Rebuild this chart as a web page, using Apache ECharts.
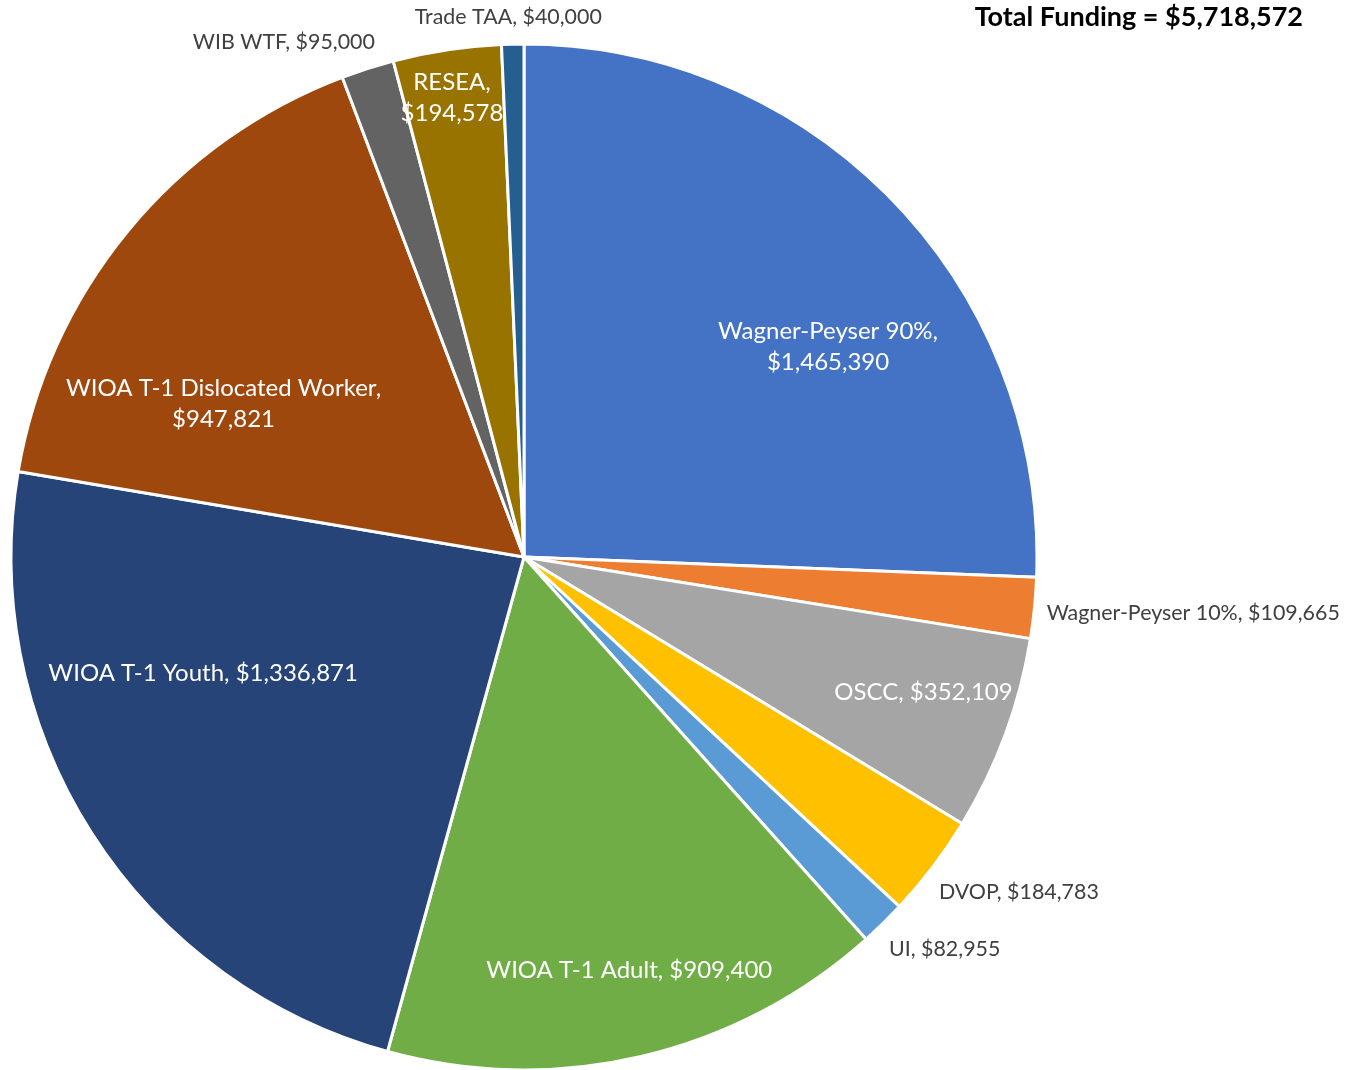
<!DOCTYPE html>
<html>
<head>
<meta charset="utf-8">
<script src="https://cdn.jsdelivr.net/npm/echarts@6/dist/echarts.min.js"></script>
<style>
  html, body { margin: 0; padding: 0; background: #fff; }
  #chart { width: 1358px; height: 1070px; }
</style>
</head>
<body>
<div id="chart"></div>
<script>
// funding programs, clockwise from 12 o'clock
const programs = [
  'Wagner-Peyser 90%', 'Wagner-Peyser 10%', 'OSCC', 'DVOP', 'UI',
  'WIOA T-1 Adult', 'WIOA T-1 Youth', 'WIOA T-1 Dislocated Worker',
  'WIB WTF', 'RESEA', 'Trade TAA'
];
const funding = [
  1465390, 109665, 352109, 184783, 82955,
  909400, 1336871, 947821,
  95000, 194578, 40000
];
const sliceColors = [
  '#4472C4', '#ED7D31', '#A5A5A5', '#FFC000', '#5B9BD5',
  '#70AD47', '#264478', '#9E480E',
  '#636363', '#997300', '#255E91'
];
// which labels sit inside the slice (white) vs outside (grey)
const labelInside = [true, false, true, false, false, true, true, true, false, true, false];
// labels that break after the comma
const labelBreak = [true, false, false, false, false, false, false, true, false, true, false];
// nudges from the default inside spot, like the excel placement
const labelShift = [
  [117, -30], [411, 30], [156, 46], [288, 178], [239, 207],
  [46, 161], [-102, -23], [-100, 12],
  [-161, -268], [-33, -203], [-10, -280]
];

const total = funding.reduce((a, b) => a + b, 0);
const money = v => '$' + v.toLocaleString('en-US');

const chart = echarts.init(document.getElementById('chart'));

chart.setOption({
  animation: false,
  title: {
    text: 'Total Funding = ' + money(total),
    right: 50,
    top: -1,
    textStyle: { fontFamily: 'Lato', fontWeight: 'bold', fontSize: 27, color: '#000' }
  },
  series: [{
    type: 'pie',
    center: [524, 557],
    radius: 513,
    startAngle: 90,
    clockwise: true,
    avoidLabelOverlap: false,
    itemStyle: { borderColor: '#fff', borderWidth: 3 },
    labelLine: { show: false },
    label: {
      position: 'inside',
      fontFamily: 'Lato',
      lineHeight: 31
    },
    labelLayout: p => ({ dx: labelShift[p.dataIndex][0], dy: labelShift[p.dataIndex][1] }),
    data: programs.map((name, i) => ({
      name: name,
      value: funding[i],
      itemStyle: { color: sliceColors[i] },
      label: {
        formatter: name + ',' + (labelBreak[i] ? '\n' : ' ') + money(funding[i]),
        color: labelInside[i] ? '#fff' : '#404040',
        fontSize: labelInside[i] ? 24 : 21.4
      }
    }))
  }]
});
</script>
</body>
</html>
